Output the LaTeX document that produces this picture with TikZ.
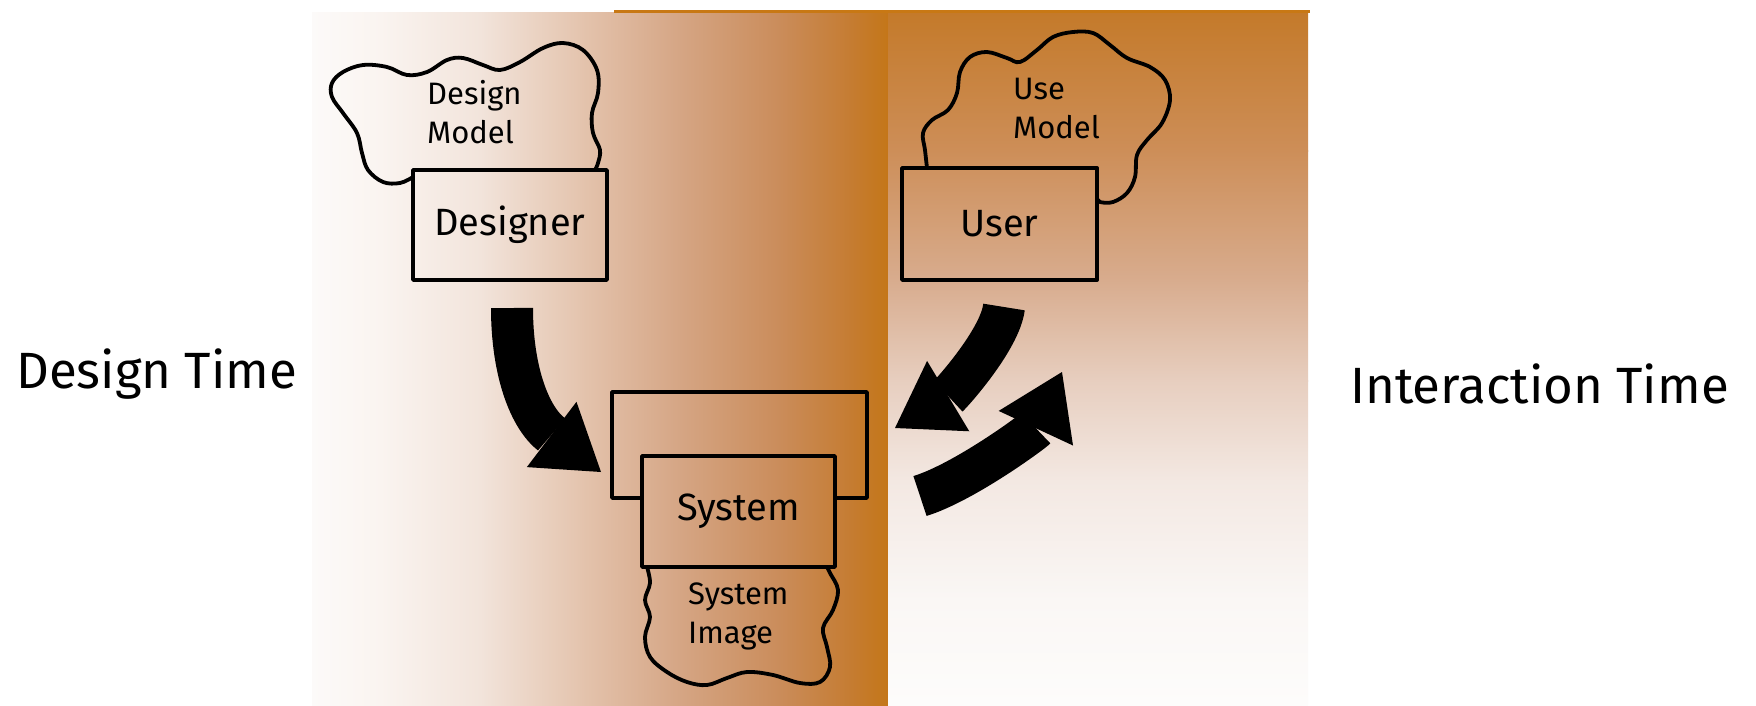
\documentclass[tikz,border=0pt]{standalone}
\usepackage{fontspec}
\setmainfont{Fira Sans}
\usetikzlibrary{arrows.meta}
\definecolor{lp0}{RGB}{252,250,249}
\definecolor{lp1}{RGB}{250,244,240}
\definecolor{lp2}{RGB}{242,228,219}
\definecolor{lp3}{RGB}{228,196,174}
\definecolor{lp4}{RGB}{213,165,132}
\definecolor{lp5}{RGB}{202,140,90}
\definecolor{lp6}{RGB}{197,124,50}
\definecolor{lp7}{RGB}{196,118,24}
\definecolor{rp0}{RGB}{196,122,42}
\definecolor{rp1}{RGB}{205,142,88}
\definecolor{rp2}{RGB}{216,172,142}
\definecolor{rp3}{RGB}{231,206,191}
\definecolor{rp4}{RGB}{243,232,226}
\definecolor{rp5}{RGB}{250,247,245}
\definecolor{rp6}{RGB}{253,252,251}
\definecolor{topline}{RGB}{200,120,20}
\tikzset{
  sketchline/.style={draw=black, line width=3.8pt, line join=round},
  box/.style={sketchline, rectangle, inner sep=0pt},
  boxtext/.style={font=\fontsize{38}{44}\selectfont},
  cloudtext/.style={font=\fontsize{31}{39}\selectfont, align=left, anchor=base west, inner sep=0pt},
  timetext/.style={font=\fontsize{51}{60}\selectfont, anchor=base west, inner sep=0pt},
  bigarrow/.style={draw=black, line width=42pt, line cap=butt,
    -{Triangle[width=82pt,length=62pt,line width=0pt]}},
}
\begin{document}
\begin{tikzpicture}[x=1pt,y=-1pt]
\useasboundingbox (0,0) rectangle (1756,705);
\fill[white] (0,0) rectangle (1756,705);
% left panel: horizontal gradient
\shade[left color=lp0, right color=lp1] (312,12) rectangle (381,705);
\shade[left color=lp1, right color=lp2] (380,12) rectangle (481,705);
\shade[left color=lp2, right color=lp3] (480,12) rectangle (581,705);
\shade[left color=lp3, right color=lp4] (580,12) rectangle (681,705);
\shade[left color=lp4, right color=lp5] (680,12) rectangle (781,705);
\shade[left color=lp5, right color=lp6] (780,12) rectangle (851,705);
\shade[left color=lp6, right color=lp7] (850,12) rectangle (889,705);
% right panel: vertical gradient
\shade[top color=rp0, bottom color=rp1] (888,12) rectangle (1308,151);
\shade[top color=rp1, bottom color=rp2] (888,150) rectangle (1308,281);
\shade[top color=rp2, bottom color=rp3] (888,280) rectangle (1308,381);
\shade[top color=rp3, bottom color=rp4] (888,380) rectangle (1308,481);
\shade[top color=rp4, bottom color=rp5] (888,480) rectangle (1308,601);
\shade[top color=rp5, bottom color=rp6] (888,600) rectangle (1308,705);
\fill[topline] (614,9.5) rectangle (1310,12.5);

% side labels
\node[timetext] (designtime) at (16,388) {Design Time};
\node[timetext] (interactiontime) at (1350,403) {Interaction Time};

% designer
\node[box, boxtext, minimum width=194pt, minimum height=110pt] (designer) at (510,225) {Designer};
\draw[sketchline] plot[smooth, tension=0.6] coordinates {
 (413,177) (400,183) (383,182) (368,170) (362,153) (357,133) (343,113) (332,97)
 (332,83) (343,72) (363,65) (387,67) (407,75) (427,72) (447,60) (463,58)
 (483,65) (500,70) (520,62) (543,48) (563,43) (583,50) (597,70) (598,93)
 (592,113) (593,133) (600,150) (598,163) (595,170)};
\node[cloudtext] (designmodel) at (427,143) {Design\\Model};

% user
\node[box, boxtext, minimum width=195pt, minimum height=112pt] (user) at (999.5,224) {User};
\draw[sketchline] plot[smooth, tension=0.6] coordinates {
 (927,168) (925,150) (923,133) (932,120) (948,110) (957,93) (960,72) (970,57)
 (987,52) (1007,58) (1020,62) (1037,50) (1053,37) (1073,32) (1093,33) (1110,45)
 (1127,58) (1150,67) (1165,80) (1170,100) (1162,123) (1147,140) (1137,155)
 (1135,177) (1127,193) (1113,202) (1100,202) (1097,198)};
\node[cloudtext] (usemodel) at (1013,138) {Use\\Model};

% system
\coordinate (outerA) at (642,498);
\coordinate (outerB) at (835,498);
\draw[sketchline] (outerA) -- (612,498) -- (612,392) -- (867,392) -- (867,498) -- (outerB);
\node[box, boxtext, minimum width=193pt, minimum height=111pt] (system) at (738.5,511.5) {System};
\draw[sketchline] plot[smooth, tension=0.6] coordinates {
 (647,567) (650,583) (645,600) (650,617) (645,637) (650,657) (667,672) (687,682)
 (707,685) (727,678) (747,672) (773,675) (800,683) (820,682) (830,667) (827,647)
 (823,628) (833,610) (838,590) (830,573) (827,567)};
\node[cloudtext] (systemimage) at (688,643) {System\\Image};

% arrows
\coordinate (a1s) at (512,308);
\coordinate (a1e) at (601,472);
\coordinate (a2s) at (1004,307);
\coordinate (a2e) at (895,428);
\coordinate (a3s) at (920,496);
\coordinate (a3e) at (1062,372);
\draw[bigarrow] (a1s) .. controls (512,372) and (530,418) .. (a1e);
\draw[bigarrow] (a2s) .. controls (1000,340) and (950,395) .. (a2e);
\draw[bigarrow] (a3s) .. controls (965,482) and (1035,430) .. (a3e);
\end{tikzpicture}
\end{document}
